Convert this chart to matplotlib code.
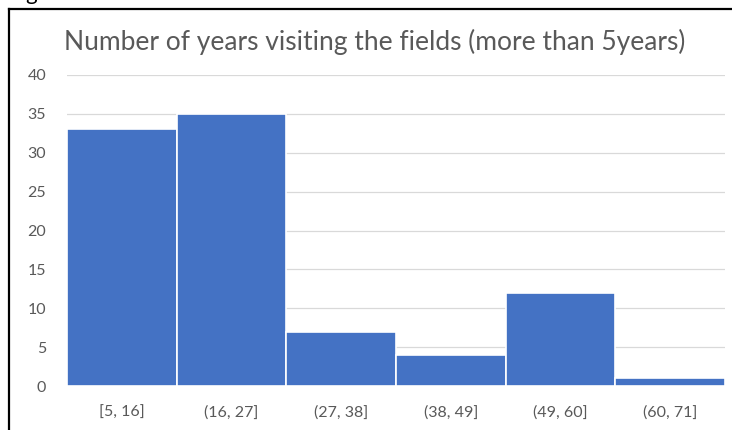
import matplotlib
matplotlib.use("Agg")
import matplotlib.pyplot as plt
from matplotlib.lines import Line2D

# Histogram bins and counts
bins = ["[5, 16]", "(16, 27]", "(27, 38]", "(38, 49]", "(49, 60]", "(60, 71]"]
counts = [33, 35, 7, 4, 12, 1]
y_ticks = [0, 5, 10, 15, 20, 25, 30, 35, 40]
title = "Number of years visiting the fields (more than 5years)"

plt.rcParams["font.family"] = ["Lato", "DejaVu Sans"]

fig = plt.figure(figsize=(7.32, 4.30), dpi=100)
W, H = 732, 430
ax = fig.add_axes([67 / W, (H - 386) / H, (725 - 67) / W, (386 - 75) / H])

x = list(range(len(bins)))
ax.bar(x, counts, width=1.0, color="#4472C4", edgecolor="white", linewidth=1.2, zorder=3)

ax.set_xlim(-0.5, len(bins) - 0.5)
ax.set_ylim(0, 40)
ax.set_yticks(y_ticks)
ax.set_xticks(x)
ax.set_xticklabels(bins)
ax.yaxis.grid(True, color="#D9D9D9", linewidth=0.9, zorder=0)
ax.tick_params(axis="both", length=0, labelsize=11.5, colors="#595959")
ax.tick_params(axis="x", pad=14)
ax.tick_params(axis="y", pad=15)
for s in ax.spines.values():
    s.set_visible(False)

fig.text(375 / W, 1 - 42 / H, title, ha="center", va="center",
         fontsize=19, color="#595959")

# Frame around the chart
fig.add_artist(Line2D([9 / W, 9 / W], [0, 1 - 9 / H], color="black", linewidth=1.6,
                      transform=fig.transFigure))
fig.add_artist(Line2D([9 / W, 1], [1 - 9 / H, 1 - 9 / H], color="black", linewidth=1.6,
                      transform=fig.transFigure))
# Tail of a caption letter above the frame
fig.text(31 / W, 1 + 6 / H, "g", ha="center", va="center", fontsize=16, color="black")

fig.savefig("out.png", dpi=100)
